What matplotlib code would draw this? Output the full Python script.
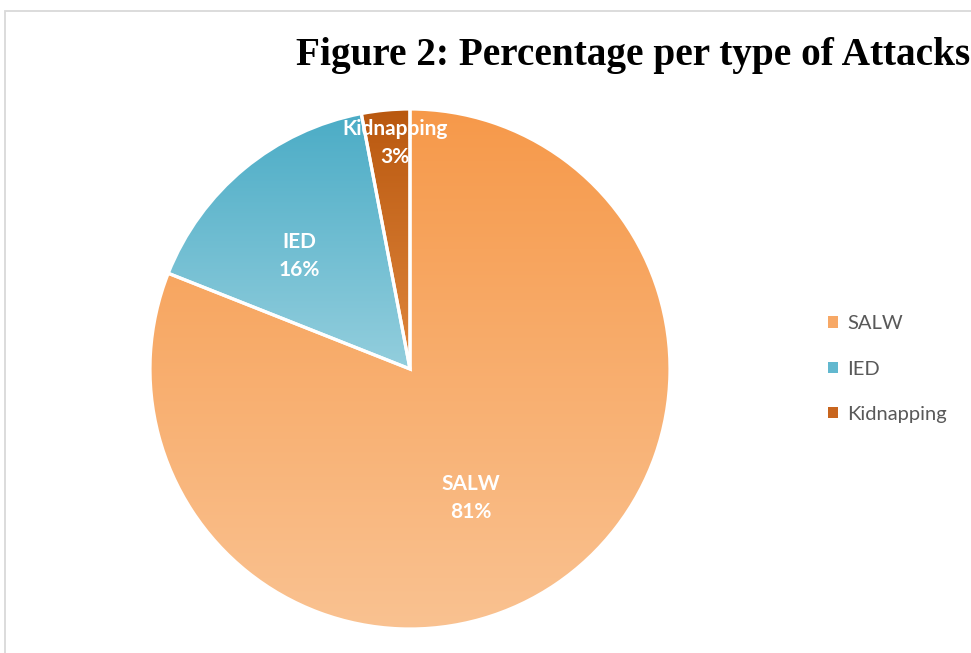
import numpy as np
import matplotlib
matplotlib.use("Agg")
import matplotlib.pyplot as plt
from matplotlib.colors import LinearSegmentedColormap
from matplotlib.patches import Patch, Rectangle

categories = ["SALW", "IED", "Kidnapping"]
percentages = [81, 16, 3]
title = "Figure 2: Percentage per type of Attacks"

# gradient colours (top, bottom) per slice
grad_top = ["#F6994A", "#4BACC6", "#B9580F"]
grad_bottom = ["#FAC291", "#93CEDD", "#E0873D"]
legend_colors = ["#F7A866", "#62B8CF", "#C8651E"]
# label placement: distance from centre, angle shift (deg)
label_dist = [0.55, 0.61, 0.87]
label_shift = [-9.0, 4.9, -1.6]

fig = plt.figure(figsize=(9.71, 6.53), dpi=100)
W, H = 971, 653

# chart border (cropped on right / bottom)
fig.add_artist(Rectangle((4.5 / W, -0.2), 1.5, 1.2 - 10.5 / H,
                         transform=fig.transFigure, fill=False,
                         edgecolor="#D9D9D9", linewidth=1.3))

ax = fig.add_axes([150 / W, 24 / H, 520 / W, 520 / H])
wedges, _ = ax.pie(percentages, startangle=90, counterclock=False,
                   radius=1.0, wedgeprops=dict(edgecolor="white", linewidth=2.3))
ax.set_xlim(-1, 1)
ax.set_ylim(-1, 1)
ax.set_aspect("equal")
ax.axis("off")

grad = np.linspace(0, 1, 256).reshape(-1, 1)
for i, w in enumerate(wedges):
    ys = w.get_path().vertices[:, 1]
    cmap = LinearSegmentedColormap.from_list("g%d" % i, [grad_top[i], grad_bottom[i]])
    im = ax.imshow(grad, cmap=cmap, aspect="auto", origin="upper",
                   extent=(-1.05, 1.05, ys.min(), ys.max()), zorder=1,
                   interpolation="bilinear")
    im.set_clip_path(w)
    w.set_facecolor("none")
    w.set_zorder(3)

    mid = np.deg2rad((w.theta1 + w.theta2) / 2 + label_shift[i])
    ax.text(label_dist[i] * np.cos(mid), label_dist[i] * np.sin(mid),
            "%s\n%d%%" % (categories[i], percentages[i]),
            ha="center", va="center", color="white", fontsize=15,
            fontweight="bold", family="Lato", linespacing=1.5, zorder=5)

fig.text(296 / W, 1 - 65 / H, title, family="Liberation Serif",
         fontweight="bold", fontsize=28.3, ha="left", va="baseline")

handles = [Patch(facecolor=c, edgecolor="none") for c in legend_colors]
fig.legend(handles, categories, loc="center left",
           bbox_to_anchor=(810 / W, 1 - 369 / H), frameon=False,
           handlelength=0.5, handleheight=0.5, handletextpad=0.45,
           labelspacing=1.4, prop=dict(family="Lato", size=14.5),
           labelcolor="#595959")

fig.savefig("out.png", dpi=100)
